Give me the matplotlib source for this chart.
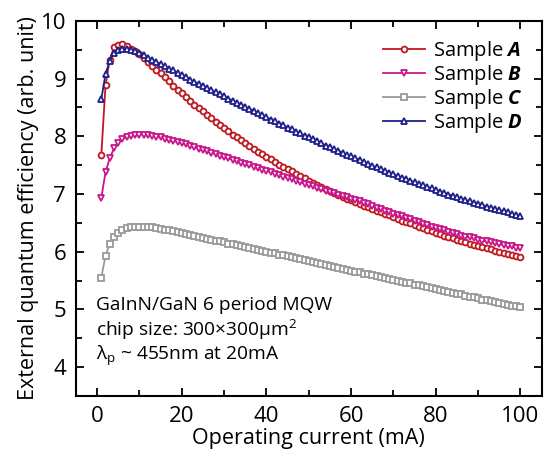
import matplotlib
matplotlib.use('Agg')
import matplotlib.pyplot as plt
from matplotlib.ticker import MultipleLocator

plt.rcParams['font.family'] = ['Open Sans', 'DejaVu Sans']
plt.rcParams['mathtext.fontset'] = 'custom'
plt.rcParams['mathtext.rm'] = 'Open Sans'
plt.rcParams['mathtext.it'] = 'Open Sans:italic'
plt.rcParams['mathtext.bf'] = 'Open Sans:bold'
plt.rcParams['mathtext.bfit'] = 'Open Sans:italic:bold'

# operating current (mA), one point per mA
current = list(range(1, 101))

# sample A
eqe_a = [7.67, 8.89, 9.33, 9.54, 9.59, 9.60, 9.57, 9.52, 9.47, 9.42,
         9.35, 9.29, 9.22, 9.15, 9.09, 9.02, 8.95, 8.88, 8.81, 8.75,
         8.68, 8.62, 8.55, 8.49, 8.43, 8.37, 8.31, 8.25, 8.19, 8.14,
         8.09, 8.03, 7.98, 7.93, 7.88, 7.83, 7.78, 7.73, 7.69, 7.64,
         7.60, 7.55, 7.51, 7.47, 7.43, 7.39, 7.35, 7.31, 7.27, 7.23,
         7.19, 7.16, 7.12, 7.09, 7.05, 7.02, 6.99, 6.95, 6.92, 6.89,
         6.86, 6.83, 6.80, 6.77, 6.74, 6.71, 6.68, 6.66, 6.63, 6.60,
         6.57, 6.54, 6.52, 6.49, 6.46, 6.43, 6.41, 6.38, 6.36, 6.33,
         6.31, 6.28, 6.26, 6.23, 6.21, 6.19, 6.17, 6.14, 6.12, 6.10,
         6.08, 6.06, 6.04, 6.02, 6.00, 5.98, 5.96, 5.94, 5.93, 5.91]

# sample B
eqe_b = [6.93, 7.38, 7.62, 7.79, 7.89, 7.95, 7.99, 8.01, 8.03, 8.03,
         8.03, 8.02, 8.01, 7.99, 7.98, 7.96, 7.94, 7.92, 7.90, 7.88,
         7.86, 7.83, 7.81, 7.78, 7.76, 7.74, 7.71, 7.69, 7.66, 7.64,
         7.62, 7.59, 7.57, 7.54, 7.52, 7.50, 7.47, 7.45, 7.42, 7.40,
         7.38, 7.35, 7.33, 7.30, 7.28, 7.26, 7.23, 7.21, 7.18, 7.16,
         7.14, 7.11, 7.09, 7.06, 7.04, 7.02, 6.99, 6.97, 6.94, 6.92,
         6.89, 6.87, 6.84, 6.82, 6.79, 6.76, 6.74, 6.71, 6.69, 6.66,
         6.63, 6.61, 6.58, 6.56, 6.53, 6.51, 6.48, 6.46, 6.43, 6.41,
         6.39, 6.37, 6.34, 6.32, 6.30, 6.28, 6.26, 6.25, 6.23, 6.21,
         6.19, 6.18, 6.16, 6.15, 6.13, 6.12, 6.10, 6.09, 6.07, 6.06]

# sample C
eqe_c = [5.55, 5.93, 6.14, 6.25, 6.33, 6.38, 6.41, 6.42, 6.43, 6.43,
         6.43, 6.42, 6.42, 6.41, 6.40, 6.38, 6.37, 6.35, 6.34, 6.32,
         6.30, 6.29, 6.27, 6.26, 6.24, 6.22, 6.21, 6.19, 6.18, 6.16,
         6.14, 6.13, 6.11, 6.10, 6.08, 6.06, 6.05, 6.03, 6.02, 6.00,
         5.98, 5.97, 5.95, 5.94, 5.92, 5.90, 5.89, 5.87, 5.86, 5.84,
         5.82, 5.81, 5.79, 5.77, 5.75, 5.73, 5.72, 5.70, 5.69, 5.67,
         5.65, 5.64, 5.62, 5.61, 5.59, 5.57, 5.56, 5.54, 5.53, 5.51,
         5.50, 5.48, 5.46, 5.45, 5.43, 5.42, 5.40, 5.38, 5.37, 5.35,
         5.34, 5.32, 5.30, 5.29, 5.27, 5.26, 5.24, 5.22, 5.21, 5.19,
         5.17, 5.16, 5.14, 5.12, 5.11, 5.09, 5.08, 5.06, 5.05, 5.04]

# sample D
eqe_d = [8.64, 9.08, 9.31, 9.44, 9.49, 9.51, 9.51, 9.50, 9.47, 9.44,
         9.40, 9.36, 9.33, 9.29, 9.25, 9.21, 9.17, 9.14, 9.10, 9.06,
         9.02, 8.98, 8.94, 8.91, 8.87, 8.83, 8.80, 8.76, 8.73, 8.69,
         8.65, 8.62, 8.58, 8.55, 8.51, 8.47, 8.44, 8.40, 8.37, 8.33,
         8.29, 8.26, 8.22, 8.19, 8.15, 8.12, 8.08, 8.05, 8.01, 7.98,
         7.95, 7.91, 7.88, 7.84, 7.81, 7.78, 7.75, 7.71, 7.68, 7.65,
         7.62, 7.59, 7.55, 7.52, 7.49, 7.46, 7.43, 7.40, 7.37, 7.34,
         7.31, 7.28, 7.26, 7.23, 7.20, 7.17, 7.15, 7.12, 7.10, 7.07,
         7.04, 7.02, 6.99, 6.97, 6.94, 6.92, 6.90, 6.87, 6.85, 6.83,
         6.81, 6.78, 6.76, 6.74, 6.72, 6.70, 6.68, 6.65, 6.63, 6.61]

labels = ['Sample $\\mathbfit{A}$', 'Sample $\\mathbfit{B}$',
          'Sample $\\mathbfit{C}$', 'Sample $\\mathbfit{D}$']
colors = ['#c0161f', '#c8178c', '#9a9a9a', '#1f1f8a']
markers = ['o', 'v', 's', '^']

fig = plt.figure(figsize=(5.46, 4.54), dpi=100)
ax = fig.add_axes([0.139, 0.128, 0.853, 0.826])

for y, lab, c, m in zip([eqe_a, eqe_b, eqe_c, eqe_d], labels, colors, markers):
    ax.plot(current, y, color=c, lw=1.3, marker=m, ms=4.2,
            mfc='white', mec=c, mew=1.3, label=lab)

ax.set_xlim(-5, 105)
ax.set_ylim(3.5, 10)
ax.xaxis.set_major_locator(MultipleLocator(20))
ax.xaxis.set_minor_locator(MultipleLocator(10))
ax.yaxis.set_major_locator(MultipleLocator(1))
ax.yaxis.set_minor_locator(MultipleLocator(0.5))
ax.tick_params(which='both', direction='in', top=True, right=True,
               labelsize=16, width=1.3)
ax.tick_params(which='major', length=6, pad=7)
ax.tick_params(which='minor', length=4)
for s in ax.spines.values():
    s.set_linewidth(1.5)

ax.set_xlabel('Operating current (mA)', fontsize=15.5, labelpad=1)
ax.set_ylabel('External quantum efficiency (arb. unit)', fontsize=15.5, labelpad=1)

ax.legend(loc='upper right', frameon=False, fontsize=14.5, handlelength=2.1,
          handletextpad=0.4, labelspacing=0.0, borderaxespad=0.3,
          bbox_to_anchor=(0.99, 0.99))

ax.text(0.043, 0.243, 'GaInN/GaN 6 period MQW', transform=ax.transAxes,
        fontsize=13.8, va='center')
ax.text(0.043, 0.176, 'chip size: 300×300μm$^2$', transform=ax.transAxes,
        fontsize=13.8, va='center')
ax.text(0.043, 0.107, 'λ$_\\mathrm{p}$ ~ 455nm at 20mA', transform=ax.transAxes,
        fontsize=13.8, va='center')

fig.savefig('out.png', dpi=100)
